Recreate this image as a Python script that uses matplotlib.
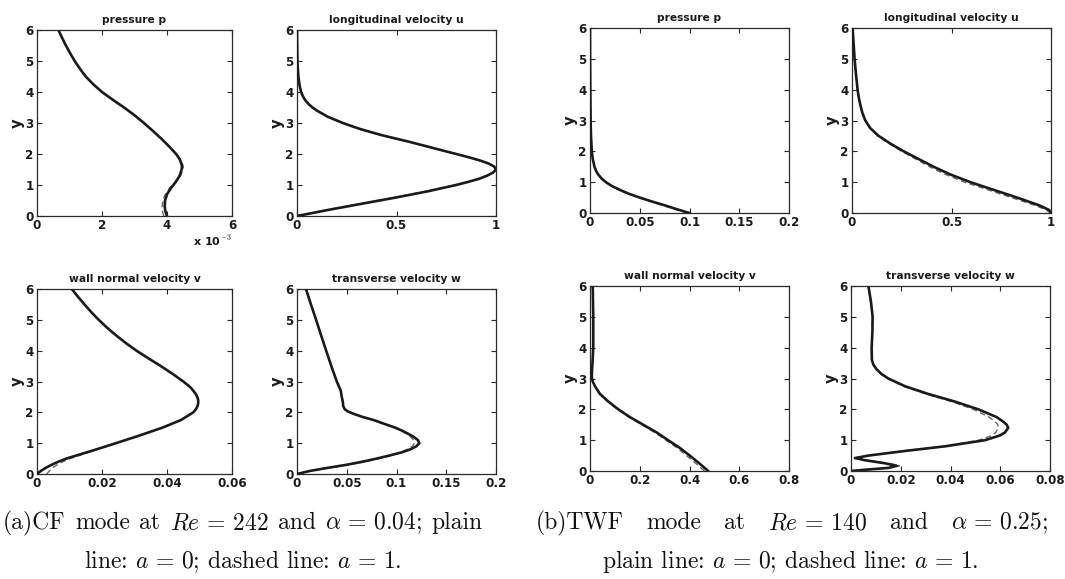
import matplotlib
matplotlib.use("Agg")
import matplotlib.pyplot as plt
from matplotlib.ticker import FuncFormatter

plt.rcParams['font.family'] = ['DejaVu Sans']
plt.rcParams['mathtext.fontset'] = 'cm'

W, H = 1065, 579

# ---------------- data ----------------
titles_a = ["pressure p", "longitudinal velocity u", "wall normal velocity v", "transverse velocity w"]
titles_b = titles_a

# (a) CF mode, Re=242, alpha=0.04   (pressure in units of 1e-3)
y_cf_p = [0, 0.15, 0.3, 0.5, 0.7, 0.9, 1.1, 1.3, 1.5, 1.6, 1.7, 1.85, 2.0, 2.25, 2.5, 2.75, 3.0, 3.25, 3.5, 3.75, 4.0, 4.25, 4.5, 4.75, 5.0, 5.25, 5.5, 5.75, 6.0]
cf_p_solid = [4.0, 3.95, 3.93, 3.94, 4.0, 4.12, 4.27, 4.39, 4.45, 4.46, 4.44, 4.38, 4.28, 4.06, 3.82, 3.56, 3.29, 3.0, 2.68, 2.33, 2.0, 1.73, 1.5, 1.32, 1.16, 1.02, 0.89, 0.77, 0.66]
cf_p_dash = [3.9, 3.86, 3.85, 3.87, 3.95, 4.08, 4.26, 4.42, 4.5, 4.5, 4.47, 4.4, 4.29, 4.06, 3.82, 3.56, 3.29, 3.0, 2.68, 2.33, 2.0, 1.73, 1.5, 1.32, 1.16, 1.02, 0.89, 0.77, 0.66]

y_cf_u = [0, 0.2, 0.4, 0.6, 0.8, 1.0, 1.1, 1.2, 1.3, 1.4, 1.5, 1.6, 1.7, 1.8, 1.9, 2.0, 2.2, 2.4, 2.6, 2.8, 3.0, 3.2, 3.4, 3.5, 3.6, 3.7, 3.8, 3.9, 4.0, 4.15, 4.3, 4.5, 4.75, 5.0, 5.5, 6.0]
cf_u_solid = [0, 0.16, 0.33, 0.5, 0.66, 0.8, 0.86, 0.915, 0.955, 0.985, 1.0, 0.99, 0.96, 0.915, 0.86, 0.8, 0.68, 0.56, 0.43, 0.32, 0.23, 0.155, 0.1, 0.078, 0.06, 0.046, 0.035, 0.027, 0.021, 0.015, 0.011, 0.007, 0.004, 0.002, 0.001, 0.0]
cf_u_dash = [0, 0.15, 0.32, 0.49, 0.65, 0.79, 0.855, 0.91, 0.955, 0.985, 1.0, 0.99, 0.96, 0.915, 0.86, 0.8, 0.68, 0.56, 0.43, 0.32, 0.23, 0.155, 0.1, 0.078, 0.06, 0.046, 0.035, 0.027, 0.021, 0.015, 0.011, 0.007, 0.004, 0.002, 0.001, 0.0]

y_cf_v = [0, 0.1, 0.2, 0.3, 0.4, 0.5, 0.75, 1.0, 1.25, 1.5, 1.75, 2.0, 2.1, 2.2, 2.3, 2.4, 2.5, 2.6, 2.7, 2.8, 2.9, 3.0, 3.25, 3.5, 3.75, 4.0, 4.25, 4.5, 4.75, 5.0, 5.25, 5.5, 5.75, 6.0]
cf_v_solid = [0, 0.0012, 0.0027, 0.0045, 0.0066, 0.009, 0.0168, 0.0243, 0.0316, 0.0385, 0.0443, 0.0481, 0.0489, 0.0494, 0.0496, 0.0496, 0.0493, 0.0488, 0.0481, 0.0473, 0.0462, 0.045, 0.0417, 0.0381, 0.0343, 0.0306, 0.0273, 0.0243, 0.0215, 0.019, 0.0167, 0.0146, 0.0126, 0.0107]
cf_v_dash = [0.003, 0.0038, 0.0048, 0.0062, 0.008, 0.0102, 0.0172, 0.0243, 0.0316, 0.0385, 0.0443, 0.0481, 0.0489, 0.0494, 0.0496, 0.0496, 0.0493, 0.0488, 0.0481, 0.0473, 0.0462, 0.045, 0.0417, 0.0381, 0.0343, 0.0306, 0.0273, 0.0243, 0.0215, 0.019, 0.0167, 0.0146, 0.0126, 0.0107]

y_cf_w = [0, 0.1, 0.2, 0.3, 0.4, 0.5, 0.6, 0.7, 0.8, 0.9, 1.0, 1.1, 1.2, 1.3, 1.4, 1.5, 1.6, 1.75, 1.85, 1.95, 2.03, 2.1, 2.2, 2.35, 2.5, 2.7, 3.0, 3.5, 4.0, 4.5, 5.0, 5.5, 6.0]
cf_w_solid = [0, 0.013, 0.031, 0.05, 0.066, 0.08, 0.093, 0.105, 0.114, 0.12, 0.123, 0.1215, 0.1175, 0.112, 0.106, 0.099, 0.09, 0.077, 0.066, 0.057, 0.051, 0.048, 0.0465, 0.046, 0.045, 0.044, 0.04, 0.0345, 0.0293, 0.0242, 0.0192, 0.014, 0.009]
cf_w_dash = [0, 0.014, 0.033, 0.052, 0.069, 0.083, 0.095, 0.104, 0.111, 0.116, 0.118, 0.1175, 0.1145, 0.11, 0.105, 0.098, 0.09, 0.077, 0.066, 0.057, 0.051, 0.048, 0.0465, 0.046, 0.045, 0.044, 0.04, 0.0345, 0.0293, 0.0242, 0.0192, 0.014, 0.009]

# (b) TWF mode, Re=140, alpha=0.25
y_twf_p = [0, 0.125, 0.25, 0.375, 0.5, 0.625, 0.75, 0.875, 1.0, 1.125, 1.25, 1.375, 1.5, 1.75, 2.0, 2.5, 3.0, 4.0, 5.0, 6.0]
twf_p_solid = [0.1, 0.087, 0.075, 0.062, 0.05, 0.039, 0.03, 0.022, 0.016, 0.0115, 0.0082, 0.006, 0.0045, 0.0028, 0.0018, 0.001, 0.0006, 0.0003, 0.0001, 0.0]
twf_p_dash = [0.098, 0.085, 0.073, 0.061, 0.049, 0.038, 0.029, 0.0215, 0.0155, 0.0112, 0.008, 0.0059, 0.0044, 0.0027, 0.0018, 0.001, 0.0006, 0.0003, 0.0001, 0.0]

y_twf_u = [0, 0.1, 0.25, 0.5, 0.75, 1.0, 1.25, 1.5, 1.75, 2.0, 2.25, 2.5, 2.75, 3.0, 3.25, 3.5, 3.75, 4.0, 4.5, 5.0, 5.5, 6.0]
twf_u_solid = [1.0, 0.99, 0.94, 0.83, 0.712, 0.595, 0.494, 0.41, 0.335, 0.26, 0.193, 0.134, 0.092, 0.067, 0.052, 0.042, 0.034, 0.028, 0.02, 0.013, 0.008, 0.003]
twf_u_dash = [1.0, 0.975, 0.92, 0.80, 0.685, 0.565, 0.47, 0.39, 0.32, 0.25, 0.187, 0.13, 0.09, 0.066, 0.051, 0.041, 0.033, 0.027, 0.019, 0.012, 0.007, 0.002]

y_twf_v = [0, 0.25, 0.5, 0.75, 1.0, 1.25, 1.5, 1.75, 2.0, 2.25, 2.5, 2.75, 2.9, 3.0, 3.1, 3.25, 3.5, 4.0, 5.0, 6.0]
twf_v_solid = [0.475, 0.439, 0.401, 0.361, 0.314, 0.268, 0.214, 0.16, 0.114, 0.074, 0.04, 0.02, 0.011, 0.008, 0.0075, 0.008, 0.01, 0.013, 0.013, 0.011]
twf_v_dash = [0.46, 0.425, 0.388, 0.35, 0.305, 0.26, 0.208, 0.156, 0.11, 0.072, 0.039, 0.02, 0.011, 0.008, 0.0075, 0.008, 0.01, 0.013, 0.013, 0.011]

y_twf_w = [0, 0.05, 0.1, 0.17, 0.25, 0.35, 0.42, 0.5, 0.65, 0.8, 1.0, 1.15, 1.25, 1.4, 1.5, 1.6, 1.75, 2.0, 2.25, 2.5, 2.75, 3.0, 3.15, 3.3, 3.45, 3.6, 4.0, 4.5, 5.0, 5.5, 6.0]
twf_w_solid = [0, 0.007, 0.015, 0.0184, 0.0137, 0.0056, 0.0016, 0.007, 0.0217, 0.0378, 0.0539, 0.0598, 0.0619, 0.0632, 0.0626, 0.0612, 0.0585, 0.0512, 0.0418, 0.031, 0.0217, 0.015, 0.0122, 0.0103, 0.009, 0.0084, 0.0083, 0.0086, 0.0087, 0.008, 0.007]
twf_w_dash = [0, 0.008, 0.016, 0.0195, 0.0145, 0.006, 0.0018, 0.0068, 0.0212, 0.037, 0.0515, 0.0566, 0.0582, 0.0592, 0.059, 0.058, 0.0555, 0.0492, 0.0405, 0.030, 0.021, 0.0148, 0.012, 0.0102, 0.0089, 0.0083, 0.0082, 0.0085, 0.0086, 0.008, 0.007]

xticks_list = [
    [0, 2, 4, 6], [0, 0.5, 1], [0, 0.02, 0.04, 0.06], [0, 0.05, 0.1, 0.15, 0.2],
    [0, 0.05, 0.1, 0.15, 0.2], [0, 0.5, 1], [0, 0.2, 0.4, 0.6, 0.8], [0, 0.02, 0.04, 0.06, 0.08],
]
yticks = [0, 1, 2, 3, 4, 5, 6]

caption_a1 = ["(a)CF", "mode", "at", r"$Re\,=\,242$", "and", r"$\alpha\,=\,0.04$;", "plain"]
caption_a2 = r"line: $a\,=\,0$; dashed line: $a\,=\,1$."
caption_b1 = ["(b)TWF", "mode", "at", r"$Re\,=\,140$", "and", r"$\alpha\,=\,0.25$;"]
caption_b2 = r"plain line: $a\,=\,0$; dashed line: $a\,=\,1$."

# ---------------- layout (pixel boxes: left, top, right, bottom) ----------------
boxes = [
    (37, 30, 232, 216), (297, 30, 496, 216), (37, 289, 232, 474), (297, 289, 496, 474),
    (590, 28, 789, 213), (852, 28, 1051, 213), (590, 286, 789, 471), (851, 286, 1050, 471),
]

panels = [
    (titles_a[0], y_cf_p, cf_p_solid, cf_p_dash),
    (titles_a[1], y_cf_u, cf_u_solid, cf_u_dash),
    (titles_a[2], y_cf_v, cf_v_solid, cf_v_dash),
    (titles_a[3], y_cf_w, cf_w_solid, cf_w_dash),
    (titles_b[0], y_twf_p, twf_p_solid, twf_p_dash),
    (titles_b[1], y_twf_u, twf_u_solid, twf_u_dash),
    (titles_b[2], y_twf_v, twf_v_solid, twf_v_dash),
    (titles_b[3], y_twf_w, twf_w_solid, twf_w_dash),
]

fig = plt.figure(figsize=(W / 100, H / 100), dpi=100)
fmt = FuncFormatter(lambda v, p: ("%g" % round(v, 6)))
frame_c = '#2a2a2a'
txt_c = '#1a1a1a'

for i, ((l, t, r, b), (title, yy, xs, xd)) in enumerate(zip(boxes, panels)):
    ax = fig.add_axes([l / W, 1 - b / H, (r - l) / W, (b - t) / H])
    ax.plot(xd, yy, color='#666666', lw=1.0, dashes=(4, 2.5), zorder=2)
    ax.plot(xs, yy, color='#1a1a1a', lw=1.9, zorder=3)
    xt = xticks_list[i]
    ax.set_xlim(xt[0], xt[-1])
    ax.set_ylim(0, 6)
    ax.set_xticks(xt)
    ax.set_yticks(yticks)
    ax.xaxis.set_major_formatter(fmt)
    ax.yaxis.set_major_formatter(fmt)
    ax.tick_params(direction='in', length=3.5, width=0.8, top=True, right=True,
                   labelsize=8.6, pad=2.5, colors=frame_c, labelcolor=txt_c)
    for lab in ax.get_xticklabels() + ax.get_yticklabels():
        lab.set_fontweight('bold')
    for s in ax.spines.values():
        s.set_color(frame_c)
        s.set_linewidth(0.9)
    ax.set_title(title, fontsize=7.7, fontweight='bold', pad=5, color=txt_c)
    ax.set_ylabel('y', fontsize=10.5, fontweight='bold', labelpad=0, color=txt_c)
    if i == 0:
        ax.text(1.0, -0.095, r'x 10$^{\mathbf{-3}}$', transform=ax.transAxes, ha='right', va='top',
                fontsize=8, fontweight='bold', color=txt_c)

# ---------------- captions (first line justified, last line centred) ----------------
cap_fs = 17
cap_kw = dict(fontsize=cap_fs, family='cmr10', color='#111111', va='baseline')
renderer = fig.canvas.get_renderer()


def justified(words, x0, x1, ybase):
    texts = [fig.text(0, 1 - ybase / H, w, ha='left', **cap_kw) for w in words]
    widths = [t.get_window_extent(renderer).width for t in texts]
    gap = (x1 - x0 - sum(widths)) / (len(words) - 1)
    x = x0
    for t, w in zip(texts, widths):
        t.set_x(x / W)
        x += w + gap


def centred(text, xc, ybase):
    fig.text(xc / W, 1 - ybase / H, text, ha='center', **cap_kw)


justified(caption_a1, 3, 483, 529)
centred(caption_a2, 243, 568)
justified(caption_b1, 536, 1048, 529)
centred(caption_b2, 790, 568)

fig.savefig('out.png', dpi=100)
